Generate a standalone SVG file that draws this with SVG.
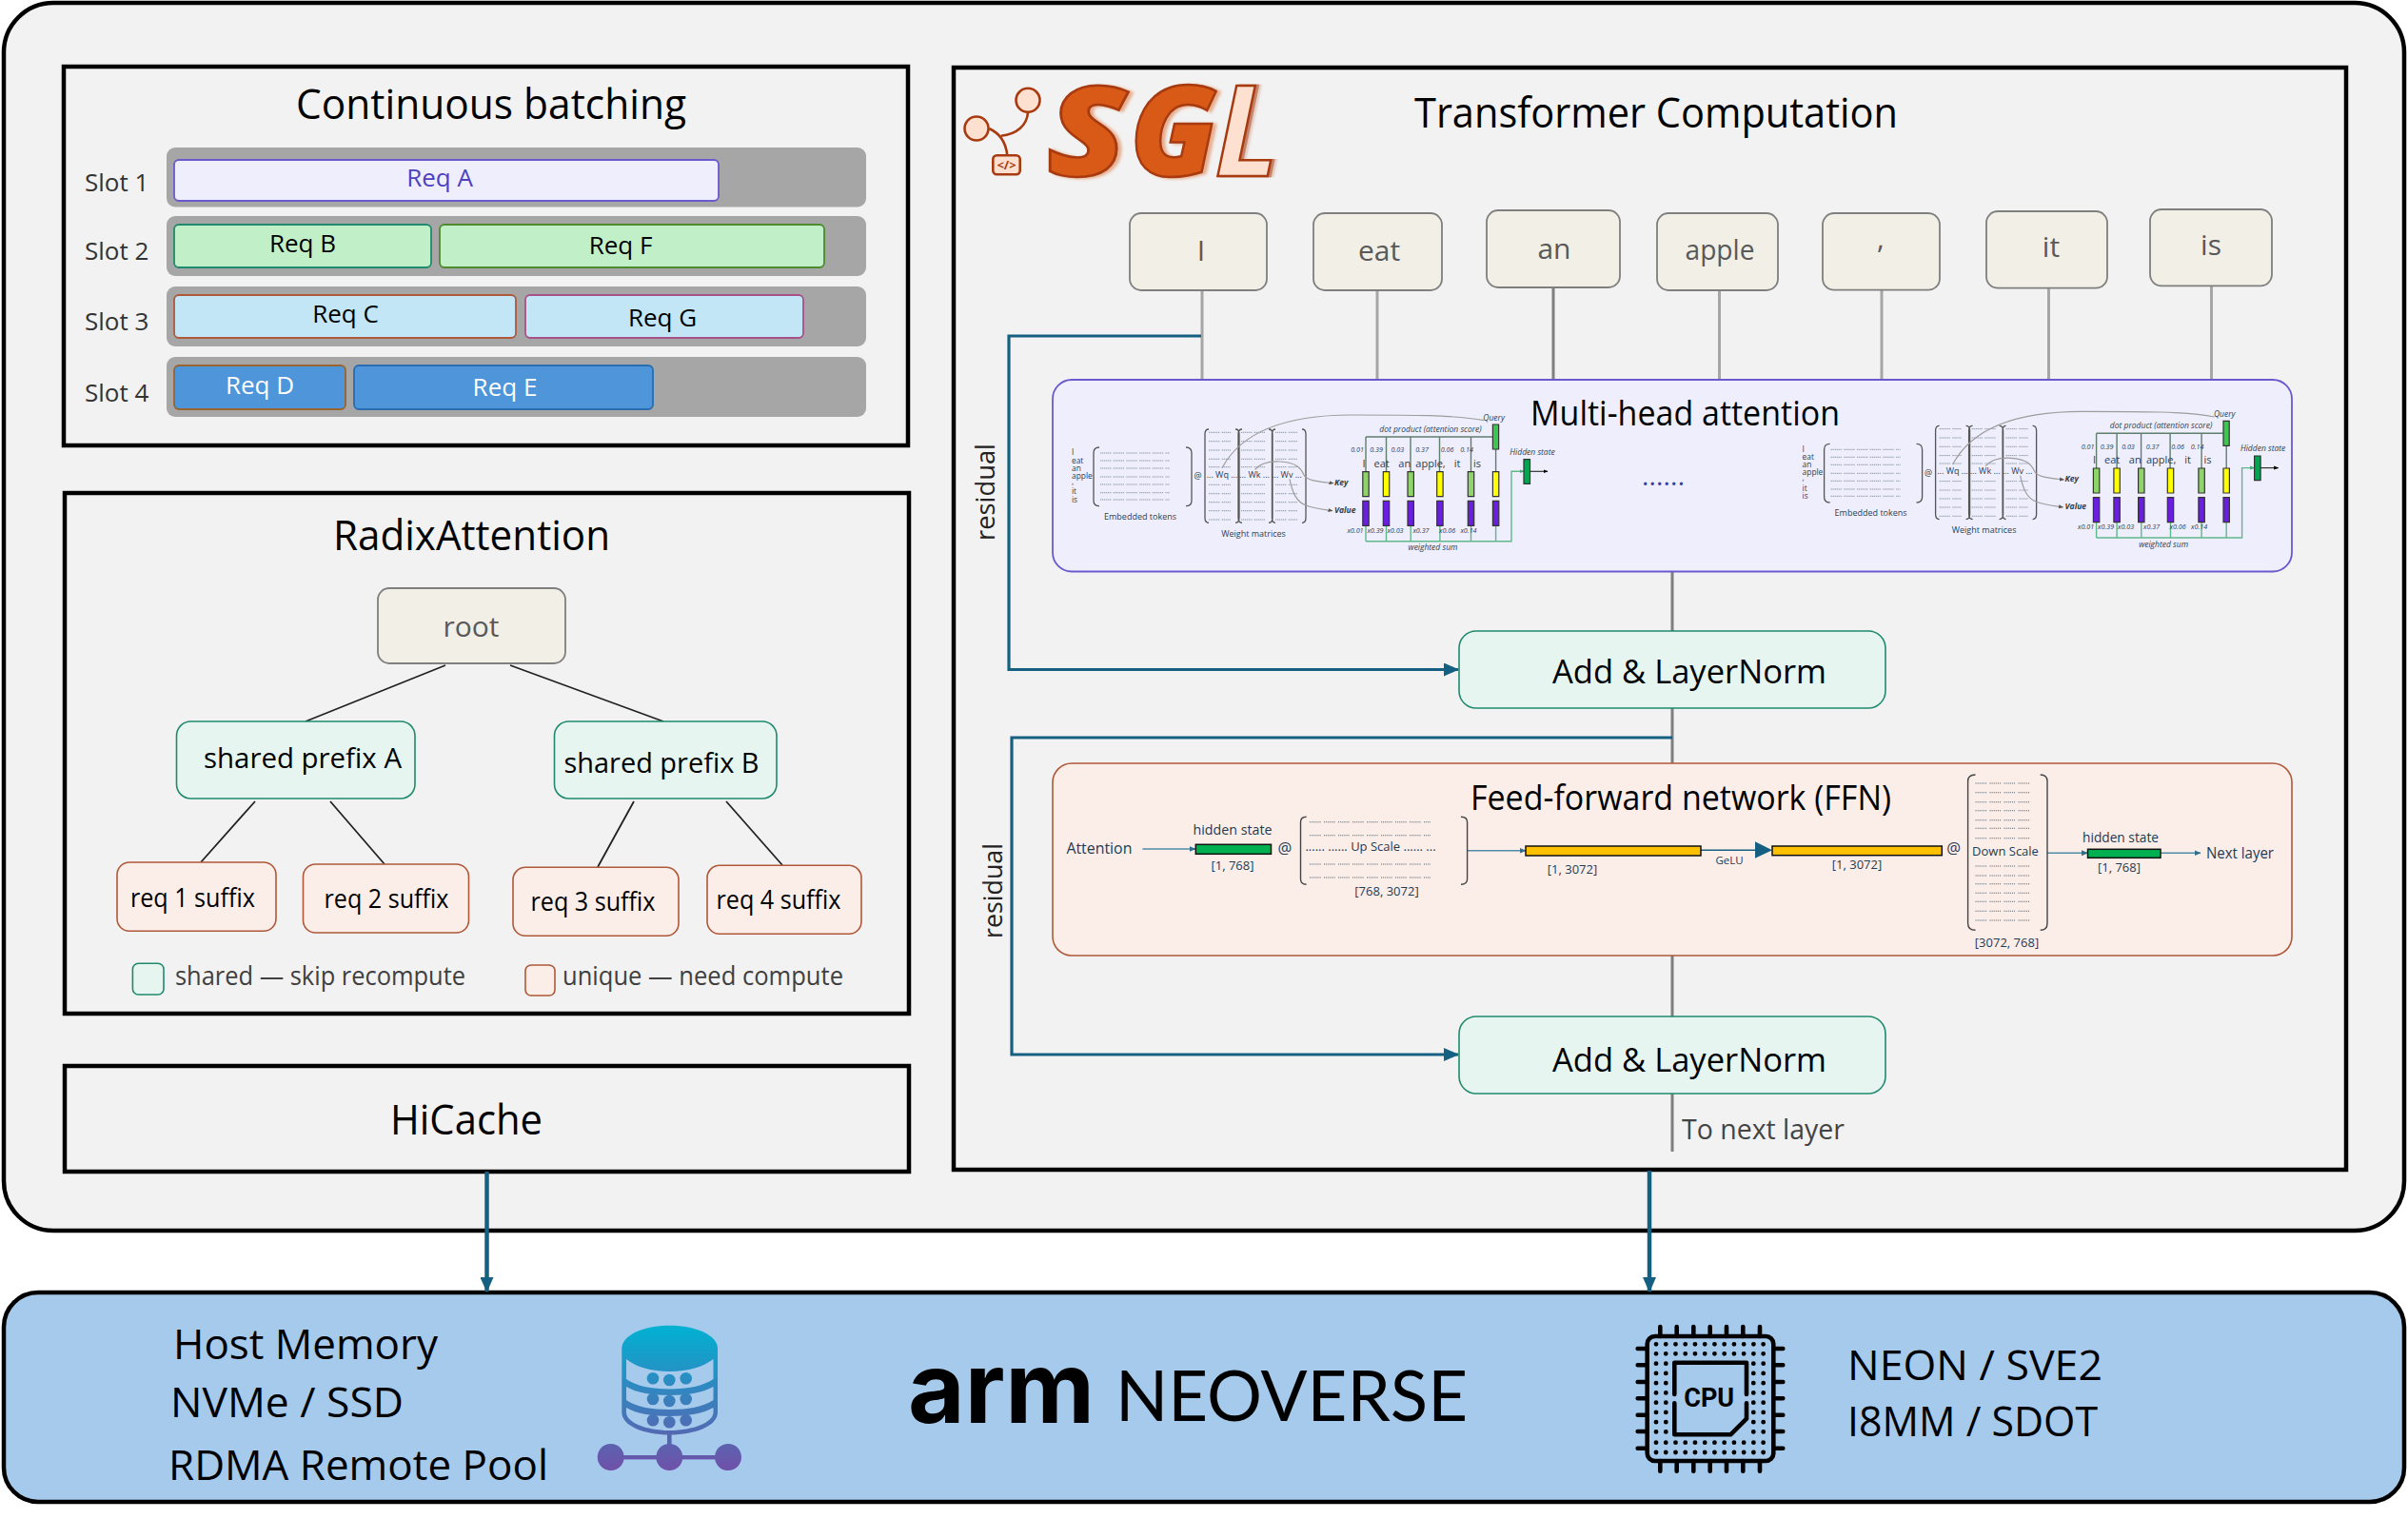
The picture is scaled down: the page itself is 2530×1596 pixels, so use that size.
<svg xmlns="http://www.w3.org/2000/svg" xmlns:xlink="http://www.w3.org/1999/xlink" width="2530" height="1596" viewBox="0 0 2530 1596">
<style>
text{font-family:"Open Sans","Noto Sans","Liberation Sans",sans-serif;fill:#000}
.m{text-anchor:middle}
.panel{fill:#f2f2f2;stroke:#000;stroke-width:4.5}
.slot{fill:#a6a6a6}
.sl{font-size:26px;fill:#333}
.rq{font-size:26px;text-anchor:middle}
.tok{fill:#f2efe6;stroke:#7f7f7f;stroke-width:1.8}
.tt{font-size:30px;fill:#595959;text-anchor:middle}
.grn{fill:#e6f5ef;stroke:#1f8a6d;stroke-width:1.6}
.red{fill:#fbeee9;stroke:#b0583a;stroke-width:1.6}
.nt{font-size:30px;text-anchor:middle}
.rs{font-size:28px;text-anchor:middle}
.lg{font-size:27px;fill:#404040}
.big{font-size:43px}
.gl{fill:none;stroke:#a6a6a6;stroke-width:3}
.gd{fill:none;stroke:#7f7f7f;stroke-width:3}
.tr{fill:none;stroke:#156082;stroke-width:3.2}
.tr2{fill:none;stroke:#156082;stroke-width:4.5}
.tree{fill:none;stroke:#222;stroke-width:1.8}
.br{fill:none;stroke:#555;stroke-width:1.3}
.dt{fill:none;stroke:#8b95a1;stroke-width:1;stroke-dasharray:1.3 .7 1.3 .7 1.3 .7 1.3 .7 1.3 .7 1.3 2.4}
.cv{fill:none;stroke:#9d9d9d;stroke-width:1.2}
.sg{fill:none;stroke:#5f7f6c;stroke-width:1.4}
.wg{fill:none;stroke:#5fb88a;stroke-width:1.4}
.bx{stroke:#333;stroke-width:1.2}
.mt{font-size:9px;fill:#2f3e4e}
.tl{font-size:8.4px;fill:#2f3e4e}
.mi{font-size:8.5px;font-style:italic;fill:#2f3e4e}
.ms{font-size:7.2px;font-style:italic;fill:#2f3e4e}
.mw{font-size:11px;fill:#2f3e4e}
.ff{fill:#1f3a52}
.f13{font-size:13px}
.f14{font-size:14.5px}
.f16{font-size:16.5px}
.fl{fill:none;stroke:#4f8ca8;stroke-width:1.5}
.fr{stroke:#111;stroke-width:1.5}
.fd{fill:none;stroke:#56636f;stroke-width:1.1;stroke-dasharray:1.1 1 1.1 1 1.1 1 1.1 1 1.1 1 1.1 3.4}
.fb{fill:none;stroke:#444;stroke-width:1.4}
.lo{fill:#fde0d0;stroke:#a83a10;stroke-width:2.6}
.ll{fill:none;stroke:#a83a10;stroke-width:2.6}
.sgl{font-size:132px;font-weight:800;font-style:italic;stroke:#a83a10;stroke-width:2.5;fill:#d95a17;filter:drop-shadow(4px 1px 1.5px rgba(217,90,23,.45))}
.cp{fill:none;stroke:#000;stroke-width:4.6;stroke-linecap:round}
.cd{fill:none;stroke:#000;stroke-width:4.8;stroke-linecap:round;stroke-dasharray:0 10.24}
</style>
<defs>
<marker id="aT" markerUnits="userSpaceOnUse" markerWidth="16" markerHeight="14" refX="15" refY="7" orient="auto"><path d="M0 0L16 7L0 14Z" fill="#156082"/></marker>
<marker id="aF" markerUnits="userSpaceOnUse" markerWidth="7" markerHeight="7" refX="6.5" refY="3.5" orient="auto"><path d="M0 .5L7 3.5L0 6.5Z" fill="#2f6f8e"/></marker>
<marker id="aG" markerUnits="userSpaceOnUse" markerWidth="5" markerHeight="5" refX="4.5" refY="2.5" orient="auto"><path d="M0 .5L5 2.5L0 4.5Z" fill="#555"/></marker>
<marker id="aW" markerUnits="userSpaceOnUse" markerWidth="5" markerHeight="5" refX="4.5" refY="2.5" orient="auto"><path d="M0 .5L5 2.5L0 4.5Z" fill="#3fae78"/></marker>
<marker id="aB" markerUnits="userSpaceOnUse" markerWidth="5" markerHeight="5" refX="4.5" refY="2.5" orient="auto"><path d="M0 .5L5 2.5L0 4.5Z" fill="#000"/></marker>
<linearGradient id="dbg" gradientUnits="userSpaceOnUse" x1="0" y1="1392" x2="0" y2="1546"><stop offset="0" stop-color="#00b2d2"/><stop offset="1" stop-color="#7050a8"/></linearGradient>
<g id="mha-shapes">
<path class="br" d="M1155 470Q1149 470 1149 476V526Q1149 531.7 1155 531.7M1246 470Q1252 470 1252 476V526Q1252 531.7 1246 531.7"/>
<path class="dt" d="M1156 476H1229M1156 484H1229M1156 492H1229M1156 501H1229M1156 509H1229M1156 517.7H1229M1156 525H1229"/>
<path class="br" d="M1270 451Q1266 451 1266 456V544Q1266 549.3 1270 549.3M1298 451Q1302 451 1302 456V544Q1302 549.3 1298 549.3M1305 451Q1301 451 1301 456V544Q1301 549.3 1305 549.3M1333 451Q1337 451 1337 456V544Q1337 549.3 1333 549.3M1340 451Q1336.5 451 1336.5 456V544Q1336.5 549.3 1340 549.3M1368 451Q1372 451 1372 456V544Q1372 549.3 1368 549.3"/>
<path class="dt" d="M1270 454.3H1293M1270 463.7H1293M1270 473H1293M1270 482.3H1293M1270 490.7H1293M1270 509.3H1293M1270 518.7H1293M1270 527.7H1293M1270 536.7H1293M1270 546H1293M1304 454.3H1329M1304 463.7H1329M1304 473H1329M1304 482.3H1329M1304 490.7H1329M1304 509.3H1329M1304 518.7H1329M1304 527.7H1329M1304 536.7H1329M1304 546H1329M1340 454.3H1363M1340 463.7H1363M1340 473H1363M1340 482.3H1363M1340 490.7H1363M1340 509.3H1363M1340 518.7H1363M1340 527.7H1363M1340 536.7H1363M1340 546H1363"/>
<path class="cv" d="M1284 491.7C1305 452 1355 436 1420 436C1480 436 1530 436 1559 441.7"/>
<path class="cv" marker-end="url(#aG)" d="M1318.5 493.3C1325 486 1336 484.5 1345 485C1362 486 1367 492 1370 499C1373 505 1385 506 1401 507.7"/>
<path class="cv" marker-end="url(#aG)" d="M1355 503.3C1358 518 1362 527 1372 531C1382 534.5 1392 535.5 1400 536.7"/>
<path class="sg" d="M1435 459H1568M1435 459V496M1456.5 459V496M1482 459V496M1512.5 459V496M1545.5 459V496M1571.6 472V496"/>
<path class="wg" d="M1435 552V568.7M1456.5 552V568.7M1482.2 552V568.7M1512.9 552V568.7M1545.5 552V568.7M1571.6 552V568.7"/>
<path class="wg" marker-end="url(#aW)" d="M1435 568.7H1588V495.3H1601"/>
<path class="bx" fill="#3cc850" d="M1568.4 446h6.2v26h-6.2z"/>
<path class="bx" fill="#8fd46a" d="M1431.8 495.7h6.4v26h-6.4zM1479 495.7h6.4v26h-6.4zM1542.3 495.7h6.4v26h-6.4z"/>
<path class="bx" fill="#ffff00" d="M1453.3 495.7h6.4v26h-6.4zM1509.7 495.7h6.4v26h-6.4zM1568.4 495.7h6.4v26h-6.4z"/>
<path class="bx" fill="#6a1fe0" d="M1431.8 526.3h6.4v26h-6.4zM1453.3 526.3h6.4v26h-6.4zM1479 526.3h6.4v26h-6.4zM1509.7 526.3h6.4v26h-6.4zM1542.3 526.3h6.4v26h-6.4zM1568.4 526.3h6.4v26h-6.4z"/>
<path class="bx" fill="#00a651" d="M1601 482.7h6.5v25.6H1601z"/>
<path fill="none" stroke="#222" stroke-width="1.1" marker-end="url(#aB)" d="M1607.5 495.3H1626"/>
</g>
</defs>

<g id="panels">
<rect x="4" y="3" width="2522" height="1290" rx="52" class="panel"/>
<rect x="4" y="1358" width="2522" height="220" rx="36" fill="#a6caec" stroke="#000" stroke-width="4.5"/>
<rect x="67" y="70" width="887" height="398" class="panel"/>
<rect x="68" y="518" width="887" height="547" class="panel"/>
<rect x="68" y="1120" width="887" height="111" class="panel"/>
<rect x="1002" y="71" width="1463" height="1158" class="panel"/>
</g>

<g id="connectors">
<path class="gl" d="M1263 305V399M1447 305V399M1806.5 305V399M1977 304V399M2152.5 302V399M2323.5 300V399"/>
<path class="gd" d="M1632 302V399M1757 600V663M1757 744V802M1757 1004V1068M1757 1149V1210"/>
<path class="tr" marker-end="url(#aT)" d="M1262 353H1060V703.5H1532"/>
<path class="tr" marker-end="url(#aT)" d="M1757 775H1063V1108H1532"/>
<path class="tr2" marker-end="url(#aT)" d="M511.5 1231V1357"/>
<path class="tr2" marker-end="url(#aT)" d="M1733 1230V1357"/>
<path class="tree" d="M468 699L321 758M536 699L697 758M268 842L211 906M347 842L404 908M666 842L628 911M763 842L822 909"/>
</g>

<g id="continuous-batching">
<text class="m" x="516" y="125" font-size="44" textLength="410" lengthAdjust="spacingAndGlyphs">Continuous batching</text>
<text class="sl" x="89" y="201">Slot 1</text><text class="sl" x="89" y="273">Slot 2</text><text class="sl" x="89" y="347">Slot 3</text><text class="sl" x="89" y="422">Slot 4</text>
<rect class="slot" x="175" y="155" width="735" height="62.5" rx="9"/><rect class="slot" x="175" y="227" width="735" height="63" rx="9"/><rect class="slot" x="175" y="301" width="735" height="63" rx="9"/><rect class="slot" x="175" y="375" width="735" height="63" rx="9"/>
<g id="req-a"><rect x="183" y="168" width="572" height="43" rx="5" fill="#eeeefc" stroke="#6a5acd" stroke-width="1.8"/><text class="rq" x="462" y="196" style="fill:#5040c0">Req A</text></g>
<g id="req-b"><rect x="183" y="236" width="270" height="45" rx="5" fill="#c1f0c8" stroke="#1f8a6d" stroke-width="1.8"/><text class="rq" x="318" y="265">Req B</text></g>
<g id="req-f"><rect x="462" y="236" width="404" height="45" rx="5" fill="#c1f0c8" stroke="#4e8a2e" stroke-width="1.8"/><text class="rq" x="652" y="267">Req F</text></g>
<g id="req-c"><rect x="183" y="310" width="359" height="45" rx="5" fill="#c2e6f5" stroke="#b0583a" stroke-width="1.8"/><text class="rq" x="363" y="339">Req C</text></g>
<g id="req-g"><rect x="552" y="310" width="292" height="45" rx="5" fill="#c2e6f5" stroke="#a8508a" stroke-width="1.8"/><text class="rq" x="696" y="343">Req G</text></g>
<g id="req-d"><rect x="183" y="384" width="180" height="46" rx="5" fill="#4e95d9" stroke="#9a6430" stroke-width="1.8"/><text class="rq" x="273" y="414" style="fill:#fff">Req D</text></g>
<g id="req-e"><rect x="372" y="384" width="314" height="46" rx="5" fill="#4e95d9" stroke="#2a6cb0" stroke-width="1.8"/><text class="rq" x="530.5" y="416" style="fill:#fff">Req E</text></g>
</g>

<g id="radix-attention">
<text class="m" x="495.5" y="578" font-size="44" textLength="291" lengthAdjust="spacingAndGlyphs">RadixAttention</text>
<g id="root"><rect class="tok" x="397" y="618" width="197" height="79" rx="12"/><text class="tt" x="495" y="669">root</text></g>
<g id="prefix-a"><rect class="grn" x="185.5" y="758" width="250.5" height="81" rx="15"/><text class="nt" x="318" y="807" textLength="208" lengthAdjust="spacingAndGlyphs">shared prefix A</text></g>
<g id="prefix-b"><rect class="grn" x="582.5" y="758" width="233.5" height="81" rx="15"/><text class="nt" x="695" y="812" textLength="205" lengthAdjust="spacingAndGlyphs">shared prefix B</text></g>
<g id="req1"><rect class="red" x="123" y="906" width="167" height="72.3" rx="13"/><text class="rs" x="202.4" y="953" textLength="131" lengthAdjust="spacingAndGlyphs">req 1 suffix</text></g>
<g id="req2"><rect class="red" x="318.5" y="908" width="174" height="72" rx="13"/><text class="rs" x="406" y="954" textLength="131" lengthAdjust="spacingAndGlyphs">req 2 suffix</text></g>
<g id="req3"><rect class="red" x="539" y="911.3" width="174" height="72" rx="13"/><text class="rs" x="623" y="957" textLength="131" lengthAdjust="spacingAndGlyphs">req 3 suffix</text></g>
<g id="req4"><rect class="red" x="743" y="909.3" width="162" height="72" rx="13"/><text class="rs" x="818" y="955.3" textLength="131" lengthAdjust="spacingAndGlyphs">req 4 suffix</text></g>
<g id="legend-shared"><rect class="grn" x="139.4" y="1012.3" width="32.6" height="32.7" rx="6"/><text class="lg" x="184" y="1035" textLength="305" lengthAdjust="spacingAndGlyphs">shared — skip recompute</text></g>
<g id="legend-unique"><rect class="red" x="552" y="1014" width="31" height="32" rx="6"/><text class="lg" x="591" y="1035" textLength="295" lengthAdjust="spacingAndGlyphs">unique — need compute</text></g>
</g>

<g id="hicache"><text class="m" x="490" y="1192" font-size="44" textLength="160" lengthAdjust="spacingAndGlyphs">HiCache</text></g>

<g id="sgl-logo">
<path class="ll" d="M1080 118C1079 132 1068 141 1051.7 142.7M1039.3 135C1050 140 1057 150 1058.3 163.3"/>
<circle class="lo" cx="1080" cy="105.3" r="12.5"/><circle class="lo" cx="1026" cy="135" r="12.5"/>
<rect class="lo" x="1043.3" y="163.3" width="28.4" height="20" rx="4"/>
<text class="m" x="1057.5" y="178" font-size="13" font-weight="700" style="fill:#a83a10">&lt;/&gt;</text>
<text class="sgl" x="1100" y="185" textLength="84" lengthAdjust="spacingAndGlyphs">S</text>
<text class="sgl" x="1187" y="185" textLength="92" lengthAdjust="spacingAndGlyphs">G</text>
<text class="sgl" x="1276" y="185" textLength="68" lengthAdjust="spacingAndGlyphs" style="fill:#fde0d0;font-weight:700;filter:drop-shadow(3px 0 0 rgba(168,58,16,.35)) drop-shadow(3px 0 0 rgba(168,58,16,.25)) drop-shadow(2px 0 0 rgba(168,58,16,.2))">L</text>
</g>

<g id="transformer-title"><text class="m" x="1740" y="134" font-size="44" textLength="508" lengthAdjust="spacingAndGlyphs">Transformer Computation</text></g>

<g id="token-i"><rect class="tok" x="1187" y="224" width="144" height="81" rx="12"/><text class="tt" x="1262" y="274">I</text></g>
<g id="token-eat"><rect class="tok" x="1380" y="224" width="135" height="81" rx="12"/><text class="tt" x="1449" y="274">eat</text></g>
<g id="token-an"><rect class="tok" x="1562" y="221" width="140" height="81" rx="12"/><text class="tt" x="1633" y="272">an</text></g>
<g id="token-apple"><rect class="tok" x="1741" y="224" width="127" height="81" rx="12"/><text class="tt" x="1807" y="273" textLength="73" lengthAdjust="spacingAndGlyphs">apple</text></g>
<g id="token-comma"><rect class="tok" x="1915" y="224" width="123" height="80.7" rx="12"/><text class="tt" x="1976" y="261">,</text></g>
<g id="token-it"><rect class="tok" x="2087" y="222" width="127" height="80.7" rx="12"/><text class="tt" x="2155" y="270">it</text></g>
<g id="token-is"><rect class="tok" x="2259" y="220" width="128" height="80.3" rx="12"/><text class="tt" x="2323" y="268">is</text></g>

<text x="1045" y="517" font-size="28" class="m" transform="rotate(-90 1045 517)" style="fill:#222" textLength="102" lengthAdjust="spacingAndGlyphs">residual</text>
<text x="1053" y="936" font-size="28" class="m" transform="rotate(-90 1053 936)" style="fill:#222" textLength="100" lengthAdjust="spacingAndGlyphs">residual</text>

<g id="multi-head-attention">
<rect x="1106" y="399" width="1302" height="201.5" rx="20" fill="#eeeefc" stroke="#6a5acd" stroke-width="1.8"/>
<text x="1608" y="446.7" font-size="37" textLength="325" lengthAdjust="spacingAndGlyphs">Multi-head attention</text>
<text x="1725" y="510" font-size="28" textLength="45" style="fill:#3b3b9b">......</text>
<use href="#mha-shapes" xlink:href="#mha-shapes"/>
<use href="#mha-shapes" xlink:href="#mha-shapes" transform="translate(767.6 -3.7)"/>
<g id="mha-text-1">
<text class="tl" x="1126" y="478.3">I</text><text class="tl" x="1126" y="487">eat</text><text class="tl" x="1126" y="495">an</text><text class="tl" x="1126" y="503">apple</text><text class="tl" x="1126" y="509">,</text><text class="tl" x="1126" y="519.3">it</text><text class="tl" x="1126" y="527.5">is</text>
<text class="mt m" x="1198" y="546">Embedded tokens</text><text class="mt m" x="1258.5" y="503.3">@</text><text class="mt m" x="1317" y="564">Weight matrices</text>
<text class="mt m" x="1284" y="501.7">... Wq ...</text><text class="mt m" x="1318" y="501.7">... Wk ...</text><text class="mt m" x="1352" y="501.7">... Wv ...</text>
<text class="mi" x="1402" y="510" font-weight="700">Key</text><text class="mi" x="1402" y="539" font-weight="700">Value</text>
<text class="mi m" x="1569.6" y="441.7">Query</text><text class="mi m" x="1503" y="454">dot product (attention score)</text><text class="mi m" x="1505.5" y="578.3">weighted sum</text><text class="mi m" x="1610" y="477.7">Hidden state</text>
<text class="ms m" x="1426" y="475.3">0.01</text><text class="ms m" x="1446" y="475.3">0.39</text><text class="ms m" x="1468.4" y="475.3">0.03</text><text class="ms m" x="1494" y="475.3">0.37</text><text class="ms m" x="1520.6" y="475.3">0.06</text><text class="ms m" x="1541" y="475.3">0.14</text>
<text class="mw m" x="1433" y="490.7">I</text><text class="mw m" x="1451.6" y="490.7">eat</text><text class="mw m" x="1475.7" y="490.7">an</text><text class="mw m" x="1503" y="490.7">apple,</text><text class="mw m" x="1531" y="490.7">it</text><text class="mw m" x="1552" y="490.7">is</text>
<text class="ms m" x="1424" y="559.7">x0.01</text><text class="ms m" x="1445" y="559.7">x0.39</text><text class="ms m" x="1466" y="559.7">x0.03</text><text class="ms m" x="1493" y="559.7">x0.37</text><text class="ms m" x="1520.6" y="559.7">x0.06</text><text class="ms m" x="1543" y="559.7">x0.14</text>
</g>
<g id="mha-text-2" transform="translate(767.6 -3.7)">
<text class="tl" x="1126" y="478.3">I</text><text class="tl" x="1126" y="487">eat</text><text class="tl" x="1126" y="495">an</text><text class="tl" x="1126" y="503">apple</text><text class="tl" x="1126" y="509">,</text><text class="tl" x="1126" y="519.3">it</text><text class="tl" x="1126" y="527.5">is</text>
<text class="mt m" x="1198" y="546">Embedded tokens</text><text class="mt m" x="1258.5" y="503.3">@</text><text class="mt m" x="1317" y="564">Weight matrices</text>
<text class="mt m" x="1284" y="501.7">... Wq ...</text><text class="mt m" x="1318" y="501.7">... Wk ...</text><text class="mt m" x="1352" y="501.7">... Wv ...</text>
<text class="mi" x="1402" y="510" font-weight="700">Key</text><text class="mi" x="1402" y="539" font-weight="700">Value</text>
<text class="mi m" x="1569.6" y="441.7">Query</text><text class="mi m" x="1503" y="454">dot product (attention score)</text><text class="mi m" x="1505.5" y="578.3">weighted sum</text><text class="mi m" x="1610" y="477.7">Hidden state</text>
<text class="ms m" x="1426" y="475.3">0.01</text><text class="ms m" x="1446" y="475.3">0.39</text><text class="ms m" x="1468.4" y="475.3">0.03</text><text class="ms m" x="1494" y="475.3">0.37</text><text class="ms m" x="1520.6" y="475.3">0.06</text><text class="ms m" x="1541" y="475.3">0.14</text>
<text class="mw m" x="1433" y="490.7">I</text><text class="mw m" x="1451.6" y="490.7">eat</text><text class="mw m" x="1475.7" y="490.7">an</text><text class="mw m" x="1503" y="490.7">apple,</text><text class="mw m" x="1531" y="490.7">it</text><text class="mw m" x="1552" y="490.7">is</text>
<text class="ms m" x="1424" y="559.7">x0.01</text><text class="ms m" x="1445" y="559.7">x0.39</text><text class="ms m" x="1466" y="559.7">x0.03</text><text class="ms m" x="1493" y="559.7">x0.37</text><text class="ms m" x="1520.6" y="559.7">x0.06</text><text class="ms m" x="1543" y="559.7">x0.14</text>
</g>
</g>

<g id="add-norm-1"><rect class="grn" x="1533" y="663" width="448" height="81" rx="18"/><text class="m" x="1775" y="718" font-size="35" textLength="288" lengthAdjust="spacingAndGlyphs">Add &amp; LayerNorm</text></g>

<g id="ffn">
<rect x="1106" y="802" width="1302" height="202" rx="20" class="red" stroke-width="1.8"/>
<text x="1545" y="851" font-size="37" textLength="442" lengthAdjust="spacingAndGlyphs">Feed-forward network (FFN)</text>
<path class="fl" marker-end="url(#aF)" d="M1200.4 892H1256"/>
<path class="fl" marker-end="url(#aF)" d="M1541.6 893.7H1603"/>
<path class="fl" marker-end="url(#aF)" d="M2151 896.3H2193.5"/>
<path class="fl" marker-end="url(#aF)" d="M2270 896.3H2312"/>
<path fill="none" stroke="#156082" stroke-width="1.6" d="M1787 893.3H1846"/>
<path fill="#156082" d="M1844 884.3L1862 893.3L1844 901.7Z"/>
<rect class="fr" x="1256.3" y="887.3" width="79.2" height="10" fill="#00b050"/>
<rect class="fr" x="1603" y="889" width="184" height="10" fill="#ffc000"/>
<rect class="fr" x="1862" y="889" width="178.3" height="9.7" fill="#ffc000"/>
<rect class="fr" x="2193.5" y="892.3" width="76.5" height="9" fill="#00b050"/>
<path class="fb" d="M1372.6 858.3Q1366.5 858.3 1366.5 864V923.5Q1366.5 929.3 1372.6 929.3M1535 858.3Q1541.6 858.3 1541.6 864V923.5Q1541.6 929.3 1535 929.3M2075.5 814Q2067.6 814 2067.6 821V970Q2067.6 977.3 2075.5 977.3M2143.7 814Q2151 814 2151 821V970Q2151 977.3 2143.7 977.3"/>
<path class="fd" d="M1376 863.7H1503M1376 877.7H1503M1376 908H1503M1376 922H1503M2075.5 823H2132.7M2075.5 832.7H2132.7M2075.5 842.7H2132.7M2075.5 851.7H2132.7M2075.5 861.7H2132.7M2075.5 870.3H2132.7M2075.5 880.7H2132.7M2075.5 910H2132.7M2075.5 920H2132.7M2075.5 928.7H2132.7M2075.5 938.3H2132.7M2075.5 947.3H2132.7M2075.5 957.3H2132.7M2075.5 967H2132.7"/>
<text class="ff f16" x="1120.4" y="897.3" textLength="69" lengthAdjust="spacingAndGlyphs">Attention</text>
<text class="ff f14 m" x="1295" y="876.7" textLength="83" lengthAdjust="spacingAndGlyphs">hidden state</text><text class="ff f13 m" x="1295" y="914">[1, 768]</text><text class="ff f16 m" x="1350" y="896.7">@</text>
<text class="ff f13 m" x="1440" y="894">...... ...... Up Scale ...... ...</text><text class="ff f13 m" x="1457" y="941.3">[768, 3072]</text><text class="ff f13 m" x="1652" y="917.7">[1, 3072]</text>
<text class="ff m" x="1817" y="908.3" font-size="11.5">GeLU</text><text class="ff f13 m" x="1951" y="913.3">[1, 3072]</text><text class="ff f16 m" x="2052.6" y="896.7">@</text>
<text class="ff f13 m" x="2107" y="899.3">Down Scale</text><text class="ff f13 m" x="2108.5" y="995">[3072, 768]</text>
<text class="ff f14 m" x="2228" y="884.7" textLength="80" lengthAdjust="spacingAndGlyphs">hidden state</text><text class="ff f13 m" x="2226.5" y="915.7">[1, 768]</text><text class="ff f16" x="2318" y="901.7" textLength="71" lengthAdjust="spacingAndGlyphs">Next layer</text>
</g>

<g id="add-norm-2"><rect class="grn" x="1533" y="1068" width="448" height="81" rx="18"/><text class="m" x="1775" y="1126" font-size="35" textLength="288" lengthAdjust="spacingAndGlyphs">Add &amp; LayerNorm</text></g>
<text x="1767" y="1197" font-size="30" textLength="171" lengthAdjust="spacingAndGlyphs" style="fill:#444">To next layer</text>

<g id="memory">
<text class="big" x="182" y="1428" textLength="278" lengthAdjust="spacingAndGlyphs">Host Memory</text>
<text class="big" x="179" y="1489" textLength="245" lengthAdjust="spacingAndGlyphs">NVMe / SSD</text>
<text class="big" x="177" y="1555" textLength="399" lengthAdjust="spacingAndGlyphs">RDMA Remote Pool</text>
</g>
<g id="db-icon">
<path fill="url(#dbg)" d="M653.3 1416.7C653.3 1403 676 1392.7 703.5 1392.7C731 1392.7 754 1403 754 1416.7V1484C754 1498 731 1507.5 703.5 1507.5C676 1507.5 653.3 1498 653.3 1484Z"/>
<path fill="#a6caec" d="M658 1428C668 1436 684 1441 703.5 1441C723 1441 739 1436 749.5 1428V1449C739 1456 723 1459.5 703.5 1459.5C684 1459.5 668 1456 658 1449ZM658 1457C668 1463 684 1466 703.5 1466C723 1466 739 1463 749.5 1457V1471C739 1478 723 1481 703.5 1481C684 1481 668 1478 658 1471ZM658 1479C668 1485 684 1488 703.5 1488C723 1488 739 1485 749.5 1479V1484C749.5 1494 729 1503 703.5 1503C678 1503 658 1494 658 1484Z"/>
<g fill="url(#dbg)"><circle cx="686" cy="1448.3" r="6.3"/><circle cx="703.3" cy="1450" r="6.3"/><circle cx="720.7" cy="1448.3" r="6.3"/><circle cx="686" cy="1470" r="6.3"/><circle cx="703.3" cy="1472" r="6.3"/><circle cx="720.7" cy="1470" r="6.3"/><circle cx="686" cy="1492.3" r="6.3"/><circle cx="703.3" cy="1494.3" r="6.3"/><circle cx="720.7" cy="1492.3" r="6.3"/>
<circle cx="641.7" cy="1531" r="14"/><circle cx="703.3" cy="1531" r="14"/><circle cx="765" cy="1531" r="14"/><rect x="641.7" y="1529" width="123.3" height="4.4"/><rect x="701" y="1506" width="4.6" height="15"/></g>
</g>
<g id="arm-neoverse">
<text x="954" y="1495" font-size="104" font-weight="700" textLength="196" lengthAdjust="spacingAndGlyphs" style="font-family:Inter,'Liberation Sans',sans-serif">arm</text>
<text x="1172" y="1493" font-size="74" font-weight="400" textLength="370" lengthAdjust="spacingAndGlyphs" style="font-family:Lato,'Liberation Sans',sans-serif">NEOVERSE</text>
</g>
<g id="cpu-icon">
<rect class="cp" x="1730.7" y="1404" width="132.6" height="131" rx="8"/>
<path class="cp" d="M1744.3 1394V1404M1761.7 1394V1404M1779.3 1394V1404M1796.7 1394V1404M1814 1394V1404M1831.3 1394V1404M1849 1394V1404M1744.3 1535V1545.7M1761.7 1535V1545.7M1779.3 1535V1545.7M1796.7 1535V1545.7M1814 1535V1545.7M1831.3 1535V1545.7M1849 1535V1545.7M1720.7 1417H1730.7M1720.7 1434.3H1730.7M1720.7 1452H1730.7M1720.7 1469.3H1730.7M1720.7 1486.7H1730.7M1720.7 1504H1730.7M1720.7 1521.7H1730.7M1863.3 1417H1873.3M1863.3 1434.3H1873.3M1863.3 1452H1873.3M1863.3 1469.3H1873.3M1863.3 1486.7H1873.3M1863.3 1504H1873.3M1863.3 1521.7H1873.3"/>
<path class="cd" d="M1740 1412.3H1853M1740 1422.3H1853M1740 1515.7H1853M1740 1526H1853M1740 1432.7V1506M1750.3 1432.7V1506M1842.3 1432.7V1506M1852.7 1432.7V1506"/>
<path class="cp" stroke-linejoin="round" d="M1759.3 1465V1431.7H1835V1465M1759.3 1474.3V1507.3H1818.3L1835 1490.7V1474.3"/>
<text class="m" x="1795.7" y="1477.7" font-size="28" font-weight="700" textLength="53" lengthAdjust="spacingAndGlyphs" style="font-family:Roboto,sans-serif">CPU</text>
</g>
<g id="isa">
<text class="big" x="1941" y="1450" textLength="268" lengthAdjust="spacingAndGlyphs">NEON / SVE2</text>
<text class="big" x="1941" y="1509" textLength="263" lengthAdjust="spacingAndGlyphs">I8MM / SDOT</text>
</g>
</svg>
